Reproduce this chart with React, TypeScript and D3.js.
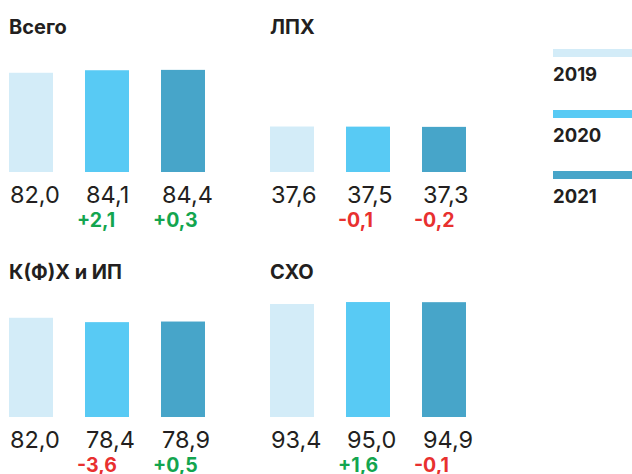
import React from 'react';
import * as d3 from 'd3';

const years = ['2019', '2020', '2021'];
const panelTitles = ['Всего', 'ЛПХ', 'К(Ф)Х и ИП', 'СХО'];
const vsego = [82.0, 84.1, 84.4];
const lph = [37.6, 37.5, 37.3];
const kfh = [82.0, 78.4, 78.9];
const sho = [93.4, 95.0, 94.9];
const vsegoDelta = [null, 2.1, 0.3];
const lphDelta = [null, -0.1, -0.2];
const kfhDelta = [null, -3.6, 0.5];
const shoDelta = [null, 1.6, -0.1];

const colors = ['#d3ecf8', '#58caf4', '#47a5c9'];
const ink = '#231f20';
const green = '#13a54f';
const red = '#e8302f';
const font = 'Inter, "Noto Sans", sans-serif';

const ru = d3.formatLocale({ decimal: ',', thousands: ' ', grouping: [3], currency: ['', ''], minus: '-' });
const fmt = ru.format('.1f');
const fmtDelta = ru.format('+.1f');

const width = 632;
const height = 474;

export default function App() {
  const panels = [
    { title: panelTitles[0], values: vsego, deltas: vsegoDelta, x: 9, base: 172 },
    { title: panelTitles[1], values: lph, deltas: lphDelta, x: 270, base: 172 },
    { title: panelTitles[2], values: kfh, deltas: kfhDelta, x: 9, base: 417 },
    { title: panelTitles[3], values: sho, deltas: shoDelta, x: 270, base: 417 },
  ];

  const x = d3.scaleBand().domain(years).range([0, 196]).paddingInner(32 / 76).paddingOuter(0);
  const h = d3.scaleLinear().domain([0, 100]).range([0, 121]);
  const color = d3.scaleOrdinal<string, string>().domain(years).range(colors);
  const legendY = d3.scalePoint().domain(years).range([49, 171]);

  return (
    <svg width={width} height={height} style={{ position: 'absolute', left: 0, top: 0, background: '#fff' }}>
      {panels.map((p) => (
        <g key={p.title} transform={`translate(${p.x},0)`}>
          <text x={0} y={p.base - 138} fontFamily={font} fontWeight={700} fontSize={20} fill={ink}>
            {p.title}
          </text>
          {p.values.map((v, i) => {
            const yr = years[i];
            const d = p.deltas[i];
            return (
              <g key={yr}>
                <rect x={x(yr)} y={p.base - h(v)} width={x.bandwidth()} height={h(v)} fill={color(yr)} />
                <text x={(x(yr) ?? 0) + 1} y={p.base + 31} fontFamily={font} fontSize={23.5} fill={ink}>
                  {fmt(v)}
                </text>
                {d !== null && (
                  <text x={(x(yr) ?? 0) - 8} y={p.base + 55} fontFamily={font} fontWeight={700} fontSize={19.5} fill={d >= 0 ? green : red}>
                    {fmtDelta(d)}
                  </text>
                )}
              </g>
            );
          })}
        </g>
      ))}
      {years.map((yr) => (
        <g key={yr} transform={`translate(553,${legendY(yr)})`}>
          <rect x={0} y={0} width={79} height={8} fill={color(yr)} />
          <text x={0} y={32} fontFamily={font} fontWeight={700} fontSize={18.5} fill={ink}>
            {yr}
          </text>
        </g>
      ))}
    </svg>
  );
}
